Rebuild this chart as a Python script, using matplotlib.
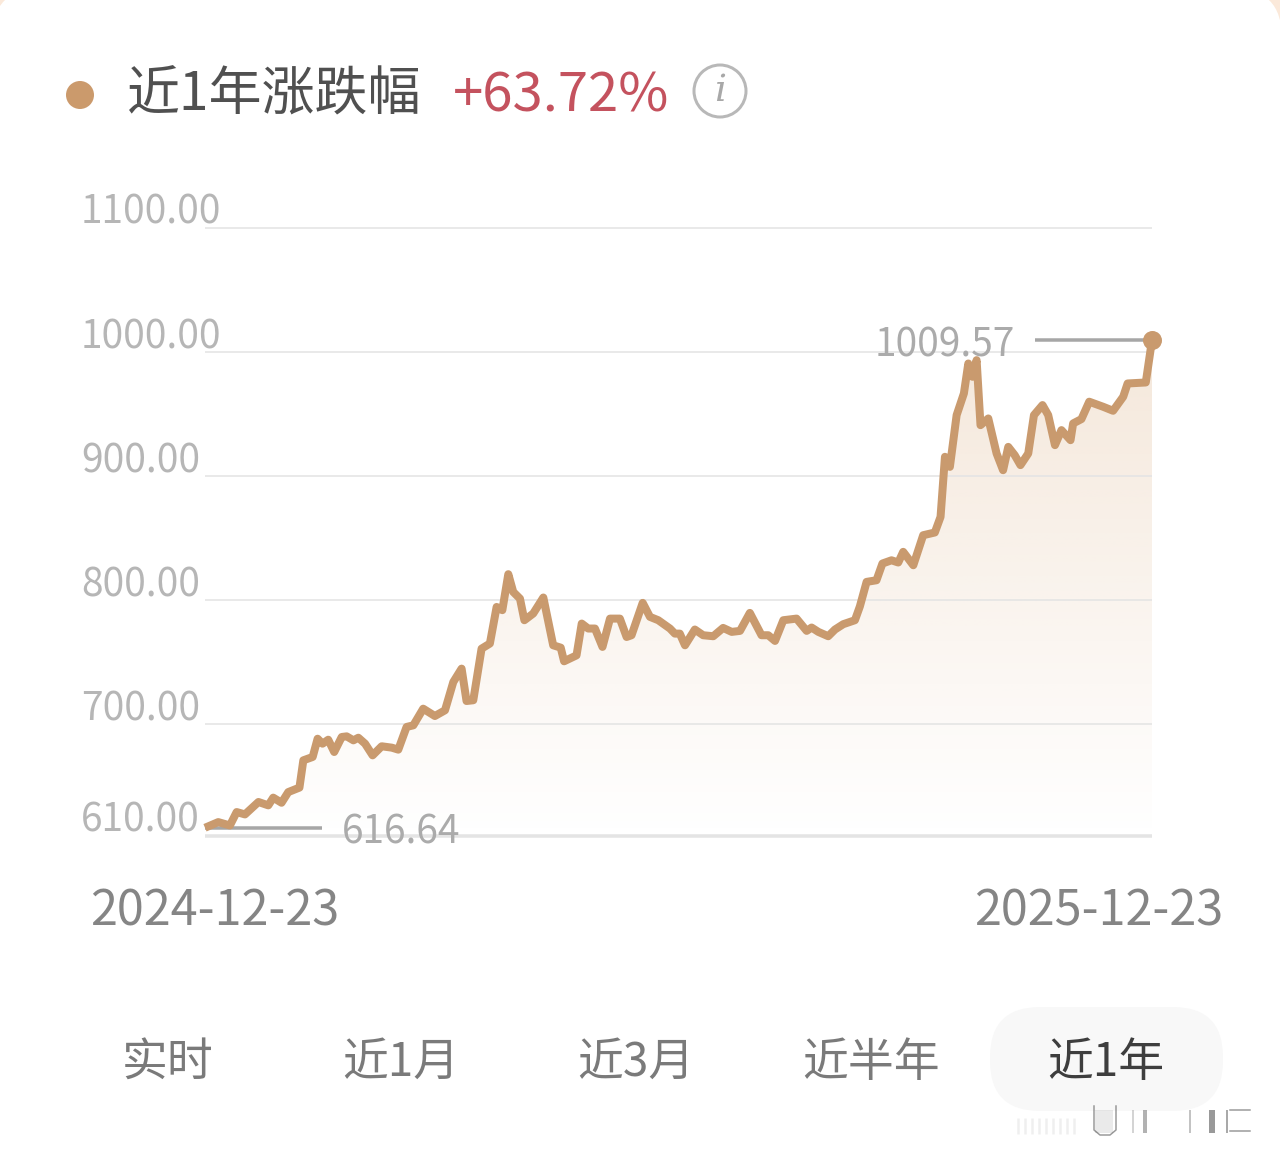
import matplotlib
matplotlib.use("Agg")
import matplotlib.pyplot as plt
import numpy as np
from matplotlib.patches import Circle, FancyBboxPatch, PathPatch
from matplotlib.path import Path
from matplotlib.colors import to_rgb

plt.rcParams['font.family'] = ['Noto Sans CJK SC', 'DejaVu Sans']

# days since 2024-12-23
days = [0, 5.1, 9.6, 12.2, 15.4, 20.6, 24.4, 26.3, 29.5, 32.1, 36.4, 37.9, 41.5, 43.4, 45.3, 47.5,
        49.8, 52.7, 54.6, 57.2, 59.1, 61.7, 64.6, 68.1, 72, 74.5, 77.7, 80.3, 84.1, 88.6, 92.5, 95.7,
        98.9, 100.8, 103.4, 106.6, 109.8, 112.4, 114.6, 116.9, 118.8, 121.4, 123.1, 126.5, 130.4, 134.2,
        137.1, 138.4, 143.2, 145.2, 147.7, 150.3, 153.2, 156.1, 159.9, 162.5, 164.4, 168.7, 171.5, 174.7,
        179.2, 181.1, 183, 185, 188.8, 192, 195.9, 199.7, 203, 206.2, 210, 214.5, 217.1, 219.7, 222.9,
        228, 231.9, 233.8, 236.4, 240.2, 242.8, 246, 250.5, 252.4, 255, 258.8, 261.1, 264.6, 267.2, 269.1,
        273, 276.8, 281.3, 283.5, 285.2, 287.1, 289.7, 292.5, 294.2, 295.8, 297.4, 298.9, 301.9, 305.1,
        307.6, 309.6, 312.1, 314.3, 317.3, 319.5, 322.8, 325, 327.6, 330.1, 333.6, 334.6, 337.8, 340.8,
        346.2, 350, 353.9, 355.6, 362.6, 365]
values = [616.64, 621.2, 618.5, 629.3, 627.4, 637.4, 634.7, 640.9, 636.8, 645.4, 649, 671, 673.7, 688.4,
          684.4, 687.6, 677.7, 689.8, 690.3, 687.1, 689.2, 684.4, 675, 682.3, 681.2, 679.6, 697.9, 699.2,
          712.6, 706.7, 711.3, 734.1, 744.9, 718.8, 719.4, 761, 765.1, 794.6, 792, 821, 806.7, 801.3, 783.9,
          789.3, 802.2, 763.7, 761.8, 750.8, 755.6, 781.2, 777.2, 777.2, 762.4, 785.2, 785.2, 770.4, 771.8,
          797.9, 786.6, 783.9, 777.2, 773.1, 773.1, 763.7, 776.4, 771.8, 771, 777.7, 774.5, 775.3, 789.8,
          771.8, 771.8, 767.2, 783.9, 785.2, 775.3, 778, 774.5, 771, 776.4, 780.7, 783.9, 795, 814.8, 816.1,
          829.6, 832.2, 830.4, 839, 828.2, 852.4, 854.6, 867.2, 915.6, 907.5, 949.2, 966.7, 990.8, 980.1,
          993.5, 941.1, 946.5, 918.3, 904.8, 923.6, 916.9, 908.9, 918.3, 949.2, 957.3, 949.2, 925, 937.1,
          929, 942.5, 946, 960, 955.9, 952.7, 964, 974.7, 975.5, 1009.57]

grid_values = [1100, 1000, 900, 800, 700]
y_labels = ['1100.00', '1000.00', '900.00', '800.00', '700.00', '610.00']
y_positions = [1100, 1000, 900, 800, 700, 610]
start_label = '2024-12-23'
end_label = '2025-12-23'
tabs = ['实时', '近1月', '近3月', '近半年', '近1年']

W, H = 1280, 1163
TAN = '#C99A6E'
LABEL = '#B6B6B6'


def lw(px):
    return px * 72 / 100


fig = plt.figure(figsize=(W / 100, H / 100), dpi=100, facecolor='#FBE9DA')

# page layer, pixel coords
bg = fig.add_axes([0, 0, 1, 1])
bg.set_xlim(0, W)
bg.set_ylim(H, 0)
bg.axis('off')
bg.add_patch(FancyBboxPatch((-8, -12), W + 10, H + 100, boxstyle='round,pad=0,rounding_size=50',
                            fc='white', ec='none'))

# header
bg.add_patch(Circle((80, 95), 14, fc='#CB9A6C', ec='none'))
bg.text(127, 95, '近1年涨跌幅', fontsize=38.2, color='#505050', va='center', ha='left')
bg.text(453, 96, '+63.72%', fontsize=39.2, color='#C4525E', va='center', ha='left')
bg.add_patch(Circle((720, 91), 26, fc='white', ec='#B8B8B8', lw=lw(3)))
bg.text(720, 91, 'i', fontsize=27, color='#A8A8A8', style='italic', va='center', ha='center',
        family='DejaVu Serif')

# tabs
bg.add_patch(FancyBboxPatch((990, 1007), 233, 104, boxstyle='round,pad=0,rounding_size=50',
                            fc='#F8F8F8', ec='none'))
tab_x = [168, 401, 636, 871, 1106]
tab_col = ['#7A7A7A'] * 4 + ['#3E3E3E']
for t, x, c in zip(tabs, tab_x, tab_col):
    bg.text(x, 1063, t, fontsize=33, color=c, va='center', ha='center')

# smeared marks at the bottom right
bg.plot([1094, 1094, 1100, 1110, 1116, 1116], [1106, 1130, 1135, 1135, 1130, 1106], color='#555555',
        lw=lw(1.5), alpha=0.6)
for x, wd, a in [(1133, 2, 0.25), (1145, 4, 0.45), (1190, 2, 0.35), (1212, 6, 0.6), (1227, 2, 0.5),
                 (1100, 10, 0.12), (1109, 8, 0.12)]:
    bg.plot([x, x], [1110, 1133], color='#555555', lw=lw(wd), alpha=a, solid_capstyle='butt')
for y in [1110, 1131]:
    bg.plot([1230, 1250], [y, y], color='#555555', lw=lw(1.5), alpha=0.6)
for x in range(1018, 1075, 7):
    bg.plot([x, x], [1118, 1134], color='#999999', lw=lw(2.5), alpha=0.15, solid_capstyle='butt')

# plot area
ax = fig.add_axes([205 / W, 1 - 836 / H, (1152 - 205) / W, (836 - 228) / H])
ax.patch.set_alpha(0)
ax.set_xlim(0, 365)
ax.set_ylim(610, 1100)
for s in ax.spines.values():
    s.set_visible(False)
ax.set_xticks([])
ax.set_yticks([])

# area gradient below the line
rgb = to_rgb('#D9A878')
grad = np.zeros((256, 2, 4))
grad[..., :3] = rgb
grad[:, :, 3] = np.linspace(0.27, 0.0, 256)[:, None]
im = ax.imshow(grad, extent=[0, 365, 610, 1010], aspect='auto', origin='upper', zorder=1)
verts = list(zip(days, values)) + [(365, 610), (0, 610)]
clip = PathPatch(Path(verts + [verts[0]], closed=True), transform=ax.transData, fc='none', ec='none')
ax.add_patch(clip)
im.set_clip_path(clip)
ax.set_xlim(0, 365)
ax.set_ylim(610, 1100)

for v in grid_values:
    ax.axhline(v, color='#E4E4E4', lw=lw(1.6), zorder=2, clip_on=False, solid_capstyle='butt')
ax.axhline(610, color='#E4E4E4', lw=lw(3.5), zorder=2, clip_on=False, solid_capstyle='butt')

for lab, v in zip(y_labels, y_positions):
    ax.annotate(lab, xy=(0, v), xycoords=('axes fraction', 'data'), xytext=(-124, 15),
                textcoords='offset pixels', fontsize=28, color=LABEL, va='center', ha='left',
                annotation_clip=False)

# min / max markers
ax.plot([0, 45], [values[0], values[0]], color='#A6A6A6', lw=lw(3.5), zorder=3, solid_capstyle='butt',
        clip_on=False)
ax.plot([320, 365], [values[-1], values[-1]], color='#A6A6A6', lw=lw(3.5), zorder=3,
        solid_capstyle='butt', clip_on=False)
ax.plot(days, values, color=TAN, lw=lw(8), zorder=4, solid_joinstyle='round', solid_capstyle='butt',
        clip_on=False)
ax.plot([365], [values[-1]], 'o', color=TAN, ms=lw(19), mec='none', zorder=5, clip_on=False)
ax.annotate('1009.57', xy=(365, values[-1]), xytext=(-137, -5), textcoords='offset pixels',
            fontsize=28, color='#ABABAB', va='center', ha='right', zorder=6)
ax.annotate('616.64', xy=(0, values[0]), xytext=(137, -5), textcoords='offset pixels',
            fontsize=28, color='#ABABAB', va='center', ha='left', zorder=6, annotation_clip=False)

ax.annotate(start_label, xy=(0, 0), xycoords=('data', 'axes fraction'), xytext=(-115, -76),
            textcoords='offset pixels', fontsize=35, color='#858585', va='center', ha='left',
            annotation_clip=False)
ax.annotate(end_label, xy=(365, 0), xycoords=('data', 'axes fraction'), xytext=(71, -76),
            textcoords='offset pixels', fontsize=35, color='#858585', va='center', ha='right',
            annotation_clip=False)

fig.savefig('out.png', dpi=100, facecolor=fig.get_facecolor())
